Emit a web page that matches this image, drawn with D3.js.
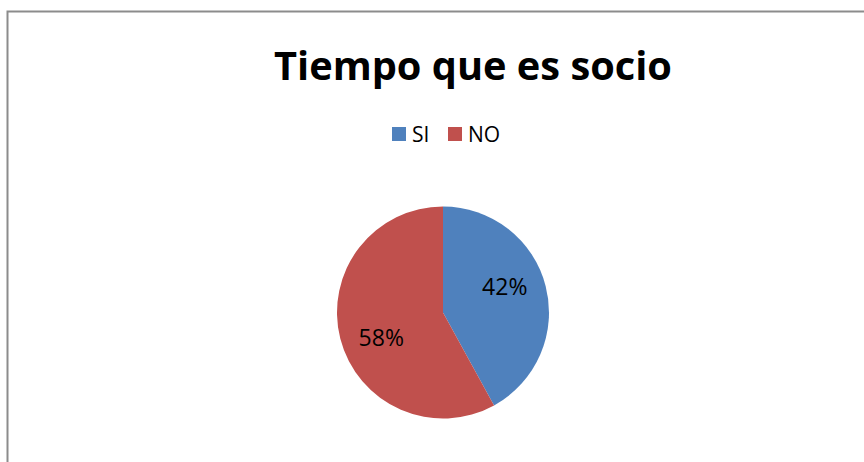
<!DOCTYPE html>
<html>
<head>
<meta charset="utf-8">
<script src="https://cdn.jsdelivr.net/npm/d3@7"></script>
<style>
  body { margin: 0; background: #fff; }
  svg text { font-family: "Open Sans", "Liberation Sans", sans-serif; }
</style>
</head>
<body>
<div id="chart"></div>
<script>
// data
const categories = ["SI", "NO"];
const values = [42, 58];
const colors = ["#4f81bd", "#c0504d"];
const title = "Tiempo que es socio";

const width = 864, height = 462;
const cx = 443, cy = 312.5, radius = 106;

const svg = d3.select("#chart")
  .append("svg")
  .attr("width", width)
  .attr("height", height);

// chart border (only top & left visible in crop)
svg.append("rect")
  .attr("x", 7.5)
  .attr("y", 11.5)
  .attr("width", 900)
  .attr("height", 500)
  .attr("fill", "none")
  .attr("stroke", "#8c8c8c")
  .attr("stroke-width", 2);

// title, sized to span the same width as the reference
const titleText = svg.append("text")
  .attr("x", 473)
  .attr("y", 80)
  .attr("text-anchor", "middle")
  .style("font-weight", "bold")
  .style("font-size", "40px")
  .attr("fill", "#000")
  .text(title);
const tw = titleText.node().getComputedTextLength();
titleText.style("font-size", (40 * 398 / tw) + "px");

// legend
const legendX = [392, 448];
const legend = svg.append("g");
categories.forEach((c, i) => {
  legend.append("rect")
    .attr("x", legendX[i])
    .attr("y", 127)
    .attr("width", 14)
    .attr("height", 14)
    .attr("fill", colors[i]);
  legend.append("text")
    .attr("x", legendX[i] + 20)
    .attr("y", 142)
    .style("font-size", "21px")
    .attr("fill", "#000")
    .text(c);
});

// pie
const pie = d3.pie().sort(null).value(d => d);
const arc = d3.arc().innerRadius(0).outerRadius(radius);
const arcs = pie(values);

const g = svg.append("g").attr("transform", `translate(${cx},${cy})`);
g.selectAll("path")
  .data(arcs)
  .enter()
  .append("path")
  .attr("d", arc)
  .attr("fill", (d, i) => colors[i]);

// labels (slightly rotated counter-clockwise from the slice middle, as in the original)
const labelR = radius * 0.63;
const shift = -8 * Math.PI / 180;
const labelArc = d3.arc().innerRadius(labelR).outerRadius(labelR);
g.selectAll("text.lbl")
  .data(arcs)
  .enter()
  .append("text")
  .attr("class", "lbl")
  .attr("transform", d => `translate(${labelArc.centroid({startAngle: d.startAngle + shift, endAngle: d.endAngle + shift})})`)
  .attr("text-anchor", "middle")
  .attr("dy", "0.35em")
  .style("font-size", "23px")
  .attr("fill", "#000")
  .text(d => d.data + "%");
</script>
</body>
</html>
